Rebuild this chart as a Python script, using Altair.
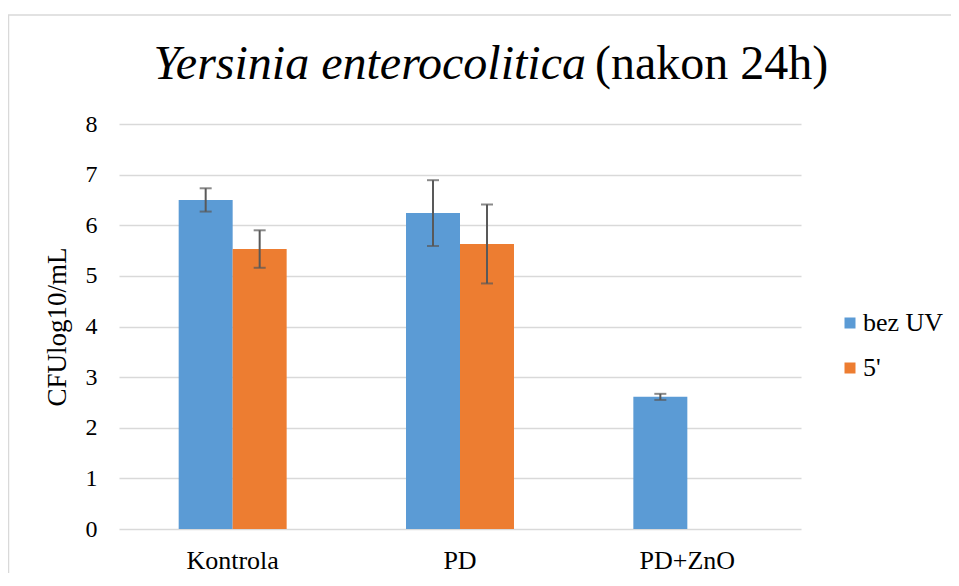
import altair as alt
import pandas as pd

categories = ["Kontrola", "PD", "PD+ZnO"]
series = ["bez UV", "5'"]
bez_uv = [6.50, 6.24, 2.61]
bez_uv_err = [0.23, 0.65, 0.06]
five = [5.53, 5.63, None]
five_err = [0.37, 0.78, None]
y_ticks = [0, 1, 2, 3, 4, 5, 6, 7, 8]
title_italic = "Yersinia enterocolitica"
title_normal = "(nakon 24h)"
y_title = "CFUlog10/mL"

rows = []
for i, c in enumerate(categories):
    for s, vals, errs in ((series[0], bez_uv, bez_uv_err), (series[1], five, five_err)):
        if vals[i] is None:
            continue
        rows.append({"cat": c, "ser": s, "v": vals[i], "lo": vals[i] - errs[i], "hi": vals[i] + errs[i]})
df = pd.DataFrame(rows)

FONT = "Liberation Serif"
W, H = 682, 405

x_scale = alt.Scale(paddingInner=0.525, paddingOuter=0.2625)
x_enc = alt.X("cat:N", sort=categories, title=None, scale=x_scale,
              axis=alt.Axis(labelAngle=0, labelFontSize=26, labelFont=FONT, labelColor="#000",
                            labelPadding=18, ticks=False, domain=False, grid=False))
xo_enc = alt.XOffset("ser:N", sort=series, scale=alt.Scale(paddingInner=0, paddingOuter=0))
y_scale = alt.Scale(domain=[0, 8], nice=False)

bars = alt.Chart(df).mark_bar().encode(
    x=x_enc,
    xOffset=xo_enc,
    y=alt.Y("v:Q", scale=y_scale, title=y_title,
            axis=alt.Axis(values=y_ticks, labelFontSize=24, labelFont=FONT, labelColor="#000",
                          labelPadding=22, ticks=False, domain=False, gridColor="#d9d9d9",
                          gridWidth=1.5, titleFont=FONT, titleFontSize=27, titleFontWeight="normal",
                          titleColor="#000", titlePadding=14)),
    color=alt.Color("ser:N", sort=series, title=None,
                    scale=alt.Scale(domain=series, range=["#5B9BD5", "#ED7D31"]),
                    legend=alt.Legend(orient="none", legendX=718, legendY=186, symbolType="square",
                                      symbolSize=121, symbolStrokeWidth=0, labelFont=FONT,
                                      labelFontSize=26, labelColor="#000", rowPadding=19,
                                      labelOffset=0, padding=0)),
)

rules = alt.Chart(df).mark_rule(color="#595959", strokeWidth=2).encode(
    x=alt.X("cat:N", sort=categories, scale=x_scale), xOffset=xo_enc,
    y=alt.Y("lo:Q", scale=y_scale), y2="hi:Q",
)
caps_hi = alt.Chart(df).mark_tick(color="#595959", thickness=2, size=12).encode(
    x=alt.X("cat:N", sort=categories, scale=x_scale), xOffset=xo_enc, y=alt.Y("hi:Q", scale=y_scale),
)
caps_lo = alt.Chart(df).mark_tick(color="#595959", thickness=2, size=12).encode(
    x=alt.X("cat:N", sort=categories, scale=x_scale), xOffset=xo_enc, y=alt.Y("lo:Q", scale=y_scale),
)

tdf = pd.DataFrame({"t": [title_italic]})
tdf2 = pd.DataFrame({"t": [title_normal]})
t1 = alt.Chart(tdf).mark_text(font=FONT, fontSize=48, fontStyle="italic", align="right",
                              baseline="alphabetic", color="#000").encode(
    text="t:N", x=alt.value(467), y=alt.value(-45))
t2 = alt.Chart(tdf2).mark_text(font=FONT, fontSize=48, align="left",
                               baseline="alphabetic", color="#000").encode(
    text="t:N", x=alt.value(476), y=alt.value(-45))

border = alt.Chart(pd.DataFrame({"b": [0]})).mark_rect(
    fill=None, stroke="#d9d9d9", strokeWidth=1.5).encode(
    x=alt.value(-110.5), x2=alt.value(900), y=alt.value(-109), y2=alt.value(500))

chart = alt.layer(border, bars, rules, caps_hi, caps_lo, t1, t2).properties(
    width=W, height=H,
    background="white",
    autosize=alt.AutoSizeParams(type="none"),
    padding={"left": 111, "top": 116, "right": 150, "bottom": 44},
).configure_view(stroke=None)

chart.save("out.html", embed_options={"renderer": "svg", "actions": False})
